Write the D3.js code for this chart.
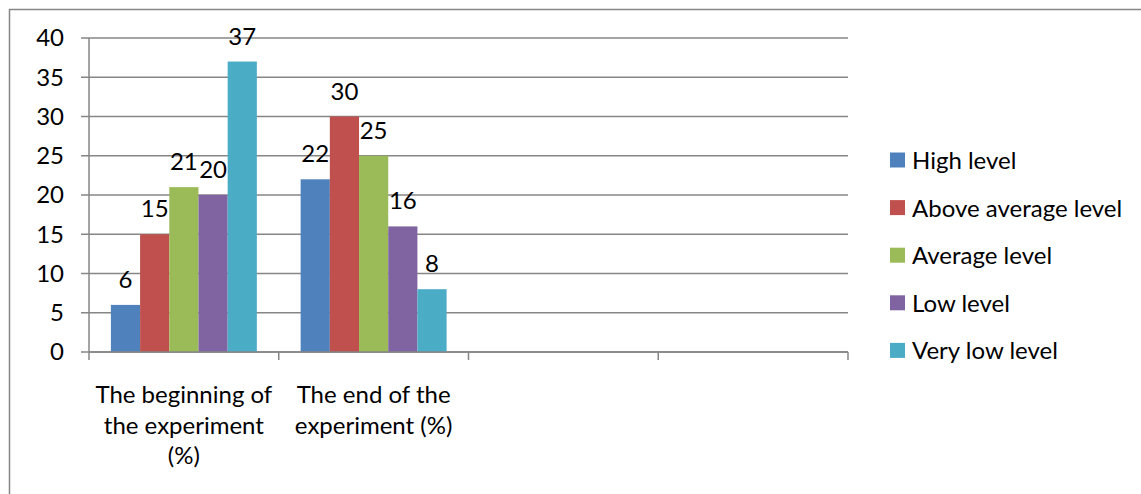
<!DOCTYPE html>
<html>
<head>
<meta charset="utf-8">
<script src="https://cdn.jsdelivr.net/npm/d3@7"></script>
<style>
  html, body { margin: 0; padding: 0; background: #fff; }
  svg { display: block; }
  text { font-family: Lato, "Open Sans", sans-serif; fill: #000; }
</style>
</head>
<body>
<script>
// Group labels along the x axis (two trailing empty slots, as in the sheet)
const categories = [
  "The beginning of the experiment (%)",
  "The end of the experiment (%)",
  "",
  ""
];
const categoryLines = [
  ["The beginning of", "the experiment", "(%)"],
  ["The end of the", "experiment (%)"],
  [],
  []
];
const seriesNames = ["High level", "Above average level", "Average level", "Low level", "Very low level"];
const seriesColors = ["#4F81BD", "#C0504D", "#9BBB59", "#8064A2", "#4BACC6"];
// Values per series: [beginning, end]
const highLevel = [6, 22];
const aboveAverageLevel = [15, 30];
const averageLevel = [21, 25];
const lowLevel = [20, 16];
const veryLowLevel = [37, 8];
const yTicks = [0, 5, 10, 15, 20, 25, 30, 35, 40];

const seriesValues = [highLevel, aboveAverageLevel, averageLevel, lowLevel, veryLowLevel];

const W = 1141, H = 494;
const FONT = 24;
const gridColor = "#868686";

const svg = d3.select("body").append("svg").attr("width", W).attr("height", H);

// Outer chart frame
svg.append("rect")
  .attr("x", 9.5).attr("y", 9.5)
  .attr("width", W + 10).attr("height", H + 10)
  .attr("fill", "none").attr("stroke", gridColor).attr("stroke-width", 1.5);

const plot = { left: 89, right: 848, top: 38, bottom: 352 };

const x = d3.scaleBand()
  .domain(d3.range(categories.length))
  .range([plot.left, plot.right])
  .paddingInner(0).paddingOuter(0);

const inner = d3.scaleBand()
  .domain(d3.range(seriesNames.length))
  .range([0, x.bandwidth()])
  .paddingInner(0)
  .paddingOuter(0.75);

const y = d3.scaleLinear().domain([0, 40]).range([plot.bottom, plot.top]);

// Horizontal gridlines and y ticks
const g = svg.append("g");
g.selectAll("line.grid").data(yTicks).join("line")
  .attr("class", "grid")
  .attr("x1", plot.left - 8).attr("x2", plot.right)
  .attr("y1", d => y(d)).attr("y2", d => y(d))
  .attr("stroke", gridColor).attr("stroke-width", 1.5);

g.selectAll("text.ytick").data(yTicks).join("text")
  .attr("class", "ytick")
  .attr("x", 64).attr("y", d => y(d))
  .attr("dy", "0.35em")
  .attr("text-anchor", "end")
  .style("font-size", FONT + "px")
  .text(d => d);

// Y axis line
g.append("line")
  .attr("x1", plot.left).attr("x2", plot.left)
  .attr("y1", plot.top).attr("y2", plot.bottom)
  .attr("stroke", gridColor).attr("stroke-width", 1.5);

// Bars
const groups = svg.selectAll("g.cat").data(categories.slice(0, 2)).join("g")
  .attr("class", "cat")
  .attr("transform", (d, i) => `translate(${x(i)},0)`);

groups.each(function(d, ci) {
  const sel = d3.select(this);
  const rows = seriesValues.map((vals, si) => ({ si, v: vals[ci] }));
  sel.selectAll("rect").data(rows).join("rect")
    .attr("x", r => inner(r.si))
    .attr("width", inner.bandwidth())
    .attr("y", r => y(r.v))
    .attr("height", r => y(0) - y(r.v))
    .attr("fill", r => seriesColors[r.si]);
  sel.selectAll("text").data(rows).join("text")
    .attr("x", r => inner(r.si) + inner.bandwidth() / 2)
    .attr("y", r => y(r.v) - 17)
    .attr("text-anchor", "middle")
    .style("font-size", FONT + "px")
    .text(r => r.v);
});

// X axis line and category ticks
svg.append("line")
  .attr("x1", plot.left).attr("x2", plot.right)
  .attr("y1", plot.bottom).attr("y2", plot.bottom)
  .attr("stroke", gridColor).attr("stroke-width", 1.5);

const xTickPos = d3.range(categories.length + 1).map(i => i < categories.length ? x(i) : x(categories.length - 1) + x.bandwidth());
svg.selectAll("line.xtick").data(xTickPos).join("line")
  .attr("class", "xtick")
  .attr("x1", d => d).attr("x2", d => d)
  .attr("y1", plot.bottom).attr("y2", plot.bottom + 8)
  .attr("stroke", gridColor).attr("stroke-width", 1.5);

// Category labels (wrapped)
svg.selectAll("text.cat").data(categoryLines).join("text")
  .attr("class", "cat")
  .attr("text-anchor", "middle")
  .style("font-size", FONT + "px")
  .each(function(lines, i) {
    const t = d3.select(this);
    lines.forEach((ln, k) => {
      t.append("tspan")
        .attr("x", x(i) + x.bandwidth() / 2)
        .attr("y", 403 + k * 30.5)
        .text(ln);
    });
  });

// Legend
const legend = svg.append("g").attr("transform", "translate(890,152.5)");
const items = legend.selectAll("g").data(seriesNames).join("g")
  .attr("transform", (d, i) => `translate(0,${i * 47.6})`);
items.append("rect").attr("width", 15).attr("height", 15).attr("fill", (d, i) => seriesColors[i]);
items.append("text")
  .attr("x", 22).attr("y", 16.5)
  .style("font-size", FONT + "px")
  .text(d => d);
</script>
</body>
</html>
